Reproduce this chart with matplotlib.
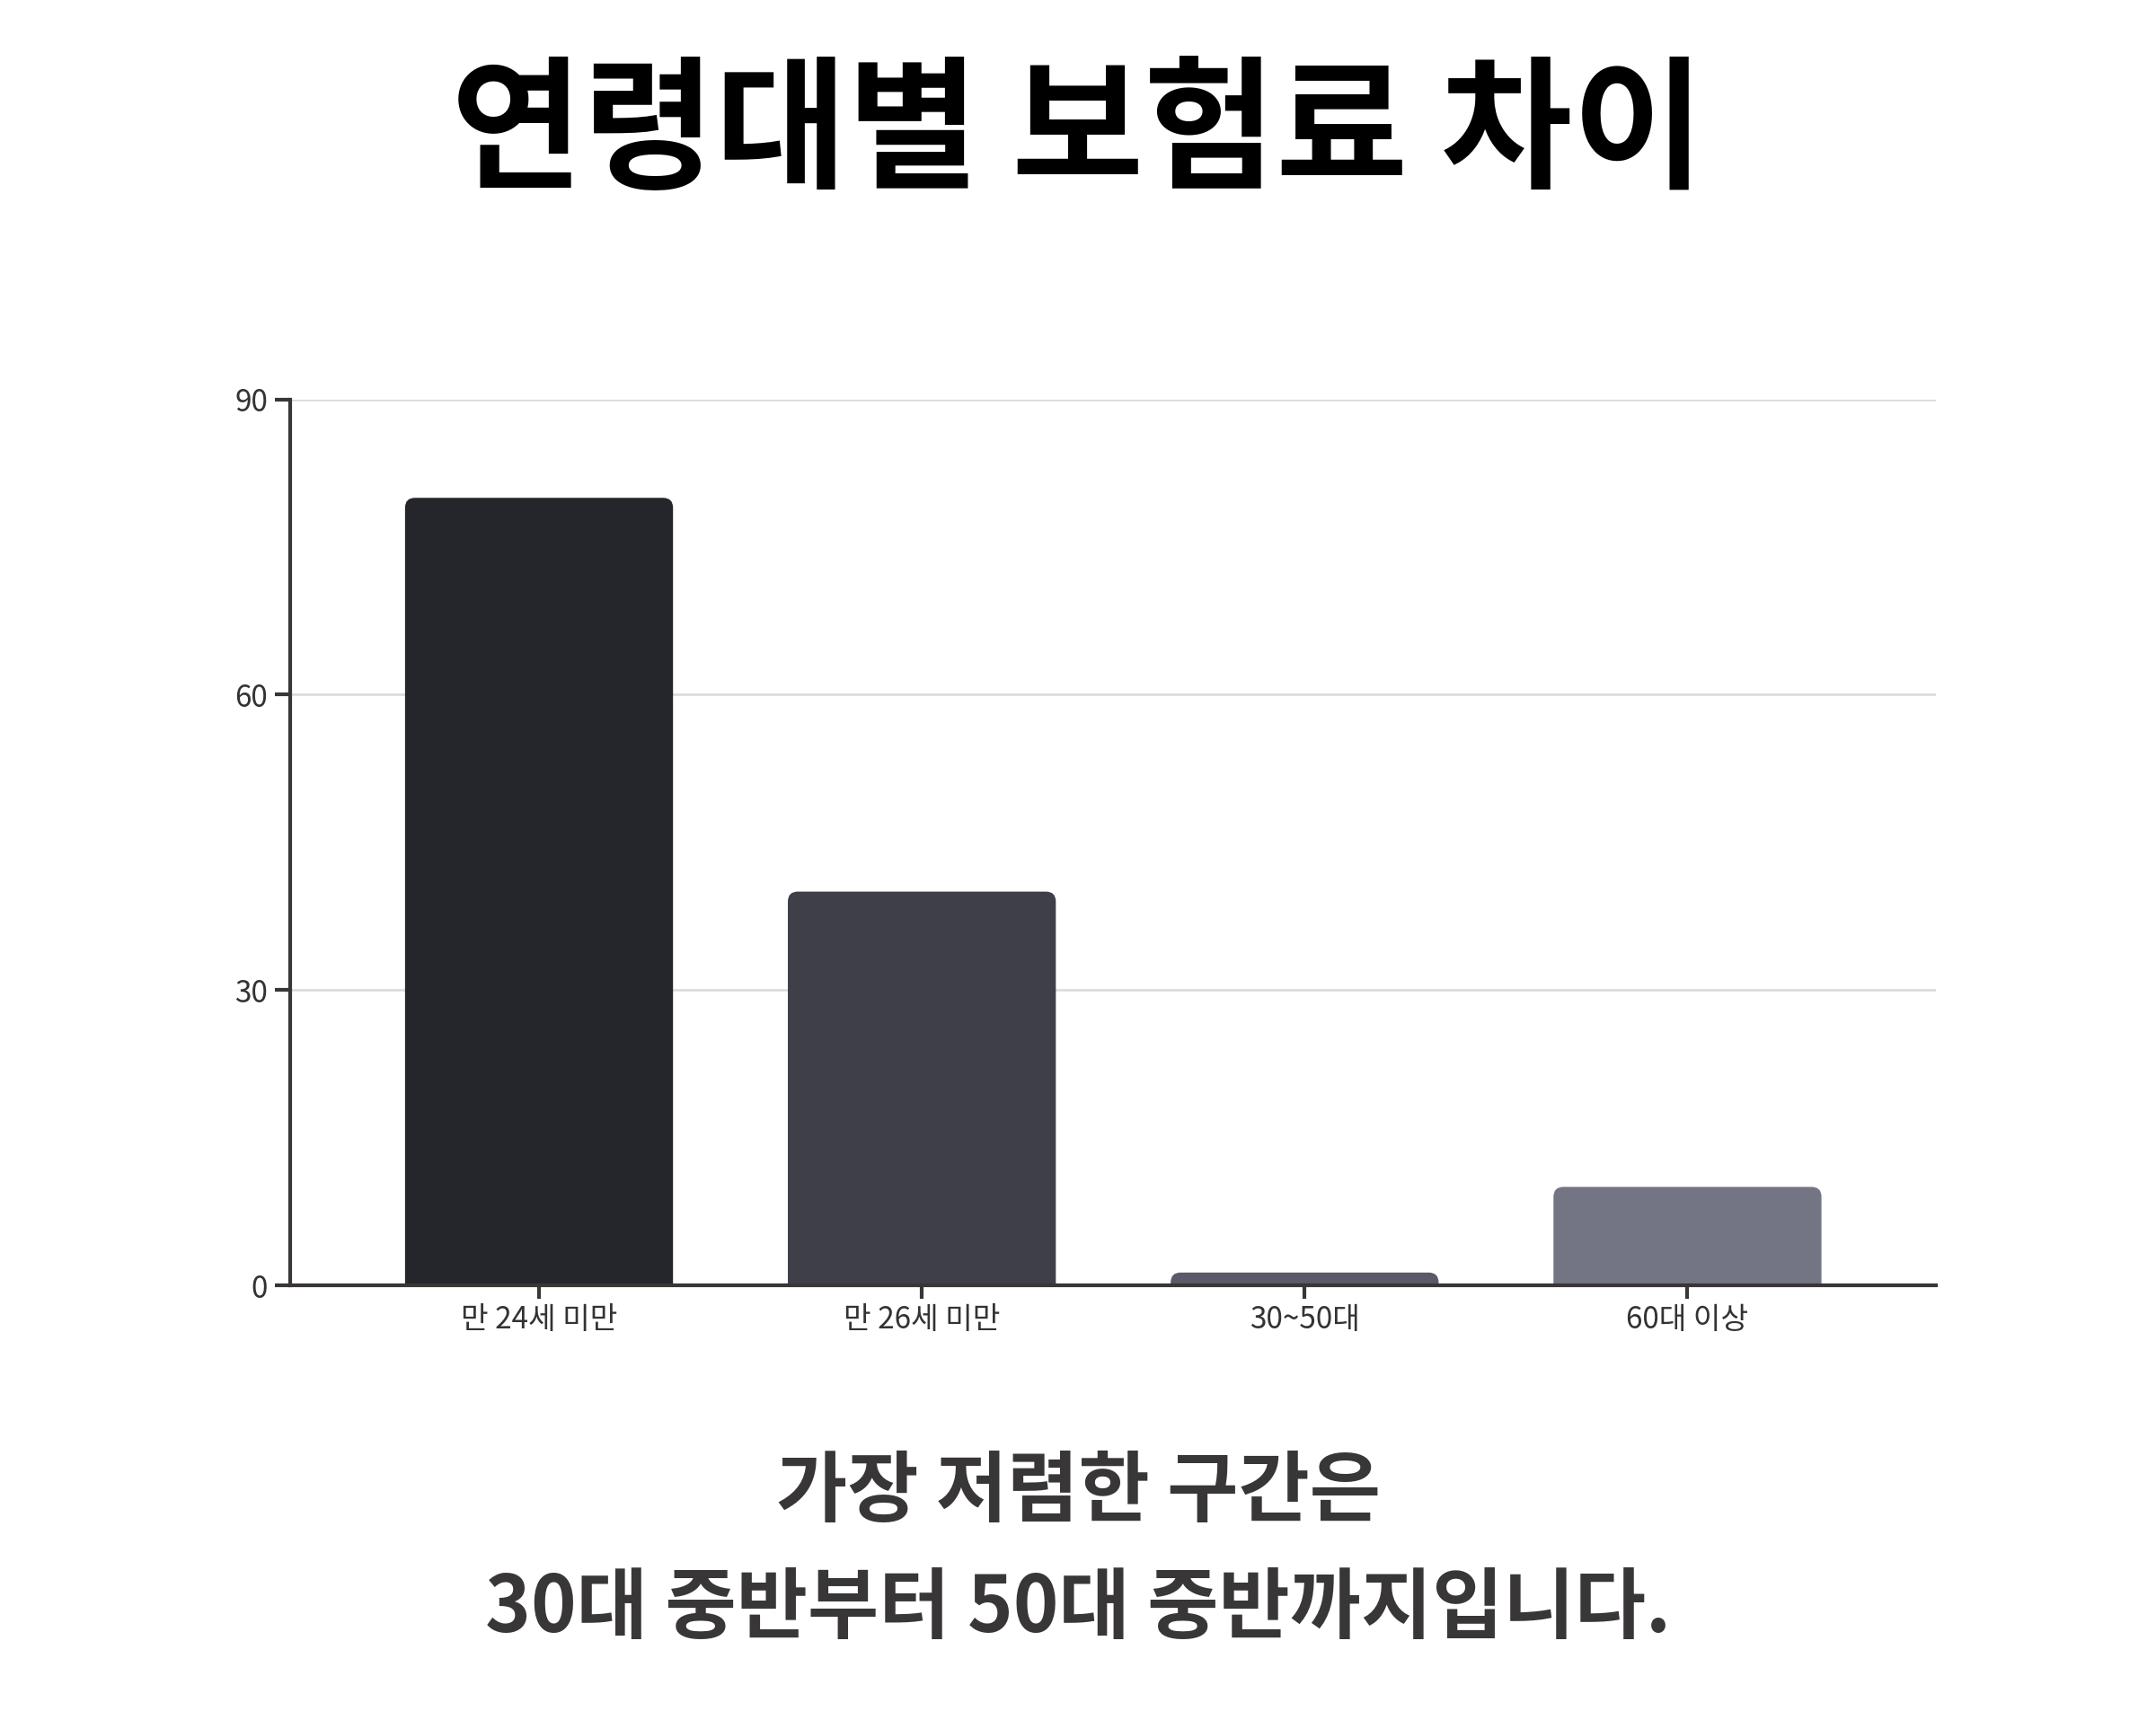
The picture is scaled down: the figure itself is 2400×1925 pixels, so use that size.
import matplotlib
matplotlib.use("Agg")
import matplotlib.pyplot as plt
from matplotlib.patches import FancyBboxPatch

plt.rcParams['font.family'] = ['Noto Sans CJK KR', 'DejaVu Sans']

categories = ["만 24세 미만", "만 26세 미만", "30~50대", "60대 이상"]
values = [80, 40, 1.3, 10]
colors = ["#25262b", "#3f3f49", "#5a5a68", "#737584"]
yticks = [0, 30, 60, 90]
title = "연령대별 보험료 차이"
subtitle_lines = ["가장 저렴한 구간은", "30대 중반부터 50대 중반까지입니다."]

W, H, DPI = 2400, 1925, 200
fig = plt.figure(figsize=(W / DPI, H / DPI), dpi=DPI)
fig.patch.set_facecolor("white")

ax = fig.add_axes([0.1346, 0.2566, 0.7635, 0.5124])
ax.set_xlim(-0.65, 3.65)
ax.set_ylim(0, 90)

axis_color = "#3a3636"
for s in ["top", "right"]:
    ax.spines[s].set_visible(False)
for s in ["left", "bottom"]:
    ax.spines[s].set_color(axis_color)
    ax.spines[s].set_linewidth(1.5)
    ax.spines[s].set_zorder(5)

ax.set_yticks(yticks)
ax.set_yticklabels([str(v) for v in yticks])
ax.set_xticks(range(len(categories)))
ax.set_xticklabels(categories)
ax.tick_params(axis="both", colors=axis_color, width=1.5,
               labelsize=12, labelcolor="#333333")
ax.tick_params(axis="x", length=5.5, pad=2)
ax.tick_params(axis="y", length=6, pad=3)
ax.grid(axis="y", color="#d9d9d9", linewidth=0.9, zorder=0)
ax.set_axisbelow(True)

# pixel scales for rounded corners
bbox = ax.get_position()
px_per_x = bbox.width * W / (3.65 + 0.65)
px_per_y = bbox.height * H / 90.0
aspect = px_per_x / px_per_y
bw = 0.7
r_px = 11.0
r_x = r_px / px_per_x
for i, (v, c) in enumerate(zip(values, colors)):
    p = FancyBboxPatch((i - bw / 2, -5), bw, v + 5,
                       boxstyle=f"round,pad=0,rounding_size={r_x}",
                       mutation_aspect=aspect,
                       facecolor=c, edgecolor="none", zorder=3, clip_on=True)
    ax.add_patch(p)

fig.text(0.5, 0.922, title, ha="center", va="center", fontsize=57.5,
         fontweight="black", color="#000000")
fig.text(0.5, 0.137, subtitle_lines[0], ha="center", va="center", fontsize=31,
         fontweight="bold", color="#383636")
fig.text(0.5, 0.069, subtitle_lines[1], ha="center", va="center", fontsize=31,
         fontweight="bold", color="#383636")

fig.savefig("out.png", dpi=DPI, facecolor="white")
